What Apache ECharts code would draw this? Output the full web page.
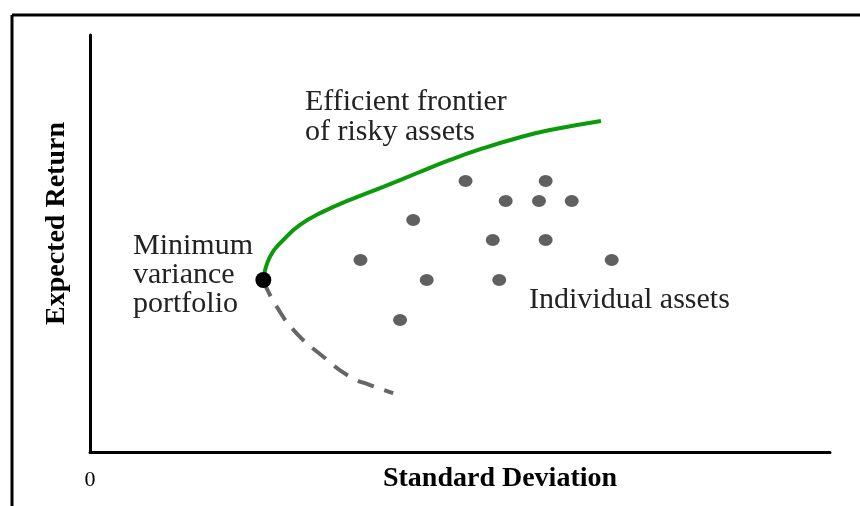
<!DOCTYPE html>
<html>
<head>
<meta charset="utf-8">
<script src="https://cdn.jsdelivr.net/npm/echarts@6/dist/echarts.min.js"></script>
<style>
html,body{margin:0;padding:0;background:#fff;}
#c{width:860px;height:506px;}
</style>
</head>
<body>
<div id="c"></div>
<script>
// Individual risky assets: [standard deviation, expected return]
var assets = [
  [14.62, 9.21], [17.47, 11.13], [20.30, 13.00], [16.76, 6.33],
  [18.20, 8.25], [21.77, 10.17], [22.12, 8.25], [22.47, 12.04],
  [24.27, 12.04], [24.63, 13.00], [24.63, 10.17], [26.04, 12.04],
  [28.20, 9.21]
];
// Efficient frontier (upper branch)
var frontier = [
  [9.37, 8.25], [9.73, 9.37], [10.45, 10.17], [11.35, 10.89],
  [12.61, 11.53], [14.05, 12.09], [15.85, 12.72], [17.66, 13.37],
  [19.46, 14.01], [21.26, 14.57], [23.06, 15.05], [24.86, 15.44],
  [27.62, 15.88]
];
// Inefficient lower branch (dashed)
var lowerBranch = [
  [9.37, 8.20], [10.09, 6.97], [11.17, 5.69], [12.61, 4.57],
  [14.05, 3.61], [15.14, 3.21], [16.39, 2.82]
];
// Minimum variance portfolio
var minVar = [[9.37, 8.25]];

var xLabels = ['0'];
var xTitle = 'Standard Deviation';
var yTitle = 'Expected Return';

var serif = '"Liberation Serif", "Times New Roman", serif';

var chart = echarts.init(document.getElementById('c'), null, {renderer: 'canvas'});
chart.setOption({
  animation: false,
  backgroundColor: '#fff',
  grid: {left: 90, right: 30, top: 35, bottom: 54, containLabel: false, outerBoundsMode: 'none'},
  xAxis: {
    type: 'value', min: 0, max: 40, interval: 10,
    axisLine: {show: true, lineStyle: {color: '#000', width: 3}},
    axisTick: {show: false},
    splitLine: {show: false},
    axisLabel: {
      margin: 17, color: '#000', fontFamily: serif, fontSize: 22,
      formatter: function (v) { return v === 0 ? xLabels[0] : ''; }
    },
    name: xTitle, nameLocation: 'middle', nameGap: 13, nameMoveOverlap: false,
    nameTextStyle: {color: '#000', fontFamily: serif, fontWeight: 'bold', fontSize: 28, padding: [0, 0, 0, 80]}
  },
  yAxis: {
    type: 'value', min: 0, max: 20, interval: 5,
    axisLine: {show: true, lineStyle: {color: '#000', width: 3}},
    axisTick: {show: false},
    splitLine: {show: false},
    axisLabel: {show: false},
    name: yTitle, nameLocation: 'middle', nameGap: 19, nameMoveOverlap: false,
    nameTextStyle: {color: '#000', fontFamily: serif, fontWeight: 'bold', fontSize: 28, padding: [0, 0, 0, 40]}
  },
  graphic: [
    {type: 'line', shape: {x1: 12, y1: 15, x2: 860, y2: 15}, style: {stroke: '#000', lineWidth: 3}},
    {type: 'line', shape: {x1: 12, y1: 15, x2: 12, y2: 506}, style: {stroke: '#000', lineWidth: 3}},
    {type: 'text', left: 305, top: 87, style: {text: 'Efficient frontier\nof risky assets', font: '30px ' + serif, fill: '#222', lineHeight: 30}},
    {type: 'text', left: 133, top: 231, style: {text: 'Minimum\nvariance\nportfolio', font: '30px ' + serif, fill: '#222', lineHeight: 29}},
    {type: 'text', left: 529, top: 285, style: {text: 'Individual assets', font: '30px ' + serif, fill: '#222'}}
  ],
  series: [
    {
      type: 'line', data: lowerBranch, smooth: true, symbol: 'none',
      lineStyle: {color: '#666', width: 4, type: [17, 11]}, z: 2
    },
    {
      type: 'line', data: frontier, smooth: true, symbol: 'none',
      lineStyle: {color: '#0a9a0a', width: 4}, z: 3
    },
    {
      type: 'scatter', data: assets, symbol: 'circle', symbolSize: [14, 12],
      itemStyle: {color: '#606060', opacity: 1}, z: 4
    },
    {
      type: 'scatter', data: minVar, symbol: 'circle', symbolSize: 16,
      itemStyle: {color: '#000', opacity: 1}, z: 5
    }
  ]
});
</script>
</body>
</html>
